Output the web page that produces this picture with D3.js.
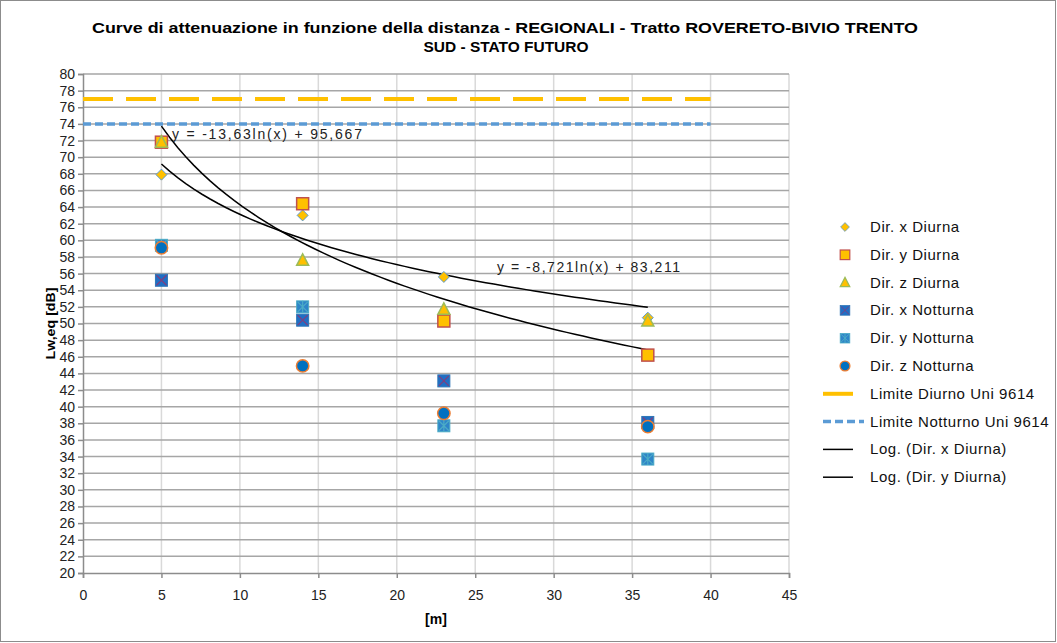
<!DOCTYPE html>
<html>
<head>
<meta charset="utf-8">
<script src="https://cdn.jsdelivr.net/npm/d3@7"></script>
<style>
  body { margin: 0; background: #fff; }
  svg text { font-family: "Liberation Sans", Arial, sans-serif; }
</style>
</head>
<body>
<svg id="chart" width="1057" height="643"></svg>
<script>
// distances [m]
var distances = [5, 14, 23, 36];

// measured levels Lw,eq [dB] per series
var dirXDiurna = [67.9, 63.0, 55.6, 50.7];
var dirYDiurna = [71.8, 64.4, 50.3, 46.2];
var dirZDiurna = [71.8, 57.6, 51.7, 50.3];
var dirXNotturna = [55.2, 50.4, 43.1, 38.1];
var dirYNotturna = [59.4, 52.0, 37.7, 33.7];
var dirZNotturna = [59.1, 44.9, 39.2, 37.6];

// limits
var limiteDiurno = 77;
var limiteNotturno = 74;
var limitRange = [0, 40];

// trendline coefficients (y = a ln(x) + b), as printed on the chart
var trendX = { a: -8.721, b: 83.211, label: 'y = -8,721ln(x) + 83,211' };
var trendY = { a: -13.63, b: 95.667, label: 'y = -13,63ln(x) + 95,667' };

var xTicks = d3.range(0, 46, 5);
var yTicks = d3.range(20, 81, 2);

var svg = d3.select('#chart');

var plotLeft = 83, plotRight = 789, plotTop = 74, plotBottom = 573;
var x = d3.scaleLinear().domain([0, 45]).range([plotLeft, plotRight]);
var y = d3.scaleLinear().domain([20, 80]).range([plotBottom, plotTop]);

// outer frame
svg.append('rect')
    .attr('x', 0.5).attr('y', 0.5)
    .attr('width', 1055).attr('height', 641)
    .attr('fill', '#fff')
    .attr('stroke', '#8c8c8c');

// title
var title = svg.append('text')
    .attr('text-anchor', 'middle')
    .attr('font-weight', 'bold')
    .attr('font-size', 15)
    .attr('fill', '#000');
title.append('tspan').attr('x', 505).attr('y', 33)
    .attr('textLength', 826).attr('lengthAdjust', 'spacingAndGlyphs')
    .text('Curve di attenuazione in funzione della distanza - REGIONALI - Tratto ROVERETO-BIVIO TRENTO');
title.append('tspan').attr('x', 506).attr('y', 52)
    .attr('textLength', 165).attr('lengthAdjust', 'spacingAndGlyphs')
    .text('SUD - STATO FUTURO');

// gridlines
svg.append('g')
    .selectAll('line')
    .data(xTicks.slice(1))
    .enter().append('line')
    .attr('x1', function(d) { return x(d); })
    .attr('x2', function(d) { return x(d); })
    .attr('y1', plotTop).attr('y2', plotBottom)
    .attr('stroke', '#d9d9d9').attr('stroke-width', 1.5);

svg.append('g')
    .selectAll('line')
    .data(yTicks.slice(1))
    .enter().append('line')
    .attr('x1', plotLeft).attr('x2', plotRight)
    .attr('y1', function(d) { return y(d); })
    .attr('y2', function(d) { return y(d); })
    .attr('stroke', '#a6a6a6').attr('stroke-width', 1.5);

// axes
var yAxis = svg.append('g')
    .attr('transform', 'translate(' + plotLeft + ',0)')
    .call(d3.axisLeft(y).tickValues(yTicks).tickSize(5).tickPadding(3));
var xAxis = svg.append('g')
    .attr('transform', 'translate(0,' + plotBottom + ')')
    .call(d3.axisBottom(x).tickValues(xTicks).tickSize(5).tickPadding(12));
[xAxis, yAxis].forEach(function(ax) {
    ax.select('.domain').attr('stroke', '#8c8c8c').attr('stroke-width', 1.5);
    ax.selectAll('.tick line').attr('stroke', '#8c8c8c').attr('stroke-width', 1.5);
    ax.selectAll('.tick text')
        .attr('font-family', '"Liberation Sans", Arial, sans-serif')
        .attr('font-size', 14).attr('fill', '#222');
});

// axis titles
svg.append('text')
    .attr('transform', 'translate(55,' + ((plotTop + plotBottom) / 2) + ') rotate(-90)')
    .attr('text-anchor', 'middle')
    .attr('font-weight', 'bold').attr('font-size', 13)
    .attr('textLength', 72).attr('lengthAdjust', 'spacingAndGlyphs')
    .text('Lw,eq [dB]');
svg.append('text')
    .attr('x', 436).attr('y', 624)
    .attr('text-anchor', 'middle')
    .attr('font-weight', 'bold').attr('font-size', 14)
    .text('[m]');

// limit lines
svg.append('line')
    .attr('x1', x(limitRange[0])).attr('x2', x(limitRange[1]))
    .attr('y1', y(limiteDiurno)).attr('y2', y(limiteDiurno))
    .attr('stroke', '#ffc000').attr('stroke-width', 4)
    .attr('stroke-dasharray', '30,13');
svg.append('line')
    .attr('x1', x(limitRange[0])).attr('x2', x(limitRange[1]))
    .attr('y1', y(limiteNotturno)).attr('y2', y(limiteNotturno))
    .attr('stroke', '#5b9bd5').attr('stroke-width', 3.5)
    .attr('stroke-dasharray', '8,4');

// trend lines
var minD = d3.min(distances), maxD = d3.max(distances);
var trendSamples = d3.range(0, 61).map(function(i) { return minD + (maxD - minD) * i / 60; });
var line = d3.line()
    .x(function(d) { return x(d[0]); })
    .y(function(d) { return y(d[1]); });
[trendX, trendY].forEach(function(t) {
    svg.append('path')
        .datum(trendSamples.map(function(d) { return [d, t.a * Math.log(d) + t.b]; }))
        .attr('d', line)
        .attr('fill', 'none')
        .attr('stroke', '#000').attr('stroke-width', 1.5);
});

// marker drawing
function drawMarker(g, type) {
    if (type === 'diamond') {
        g.append('path').attr('d', 'M0,-5.5L5.5,0L0,5.5L-5.5,0Z')
            .attr('fill', '#ffc000').attr('stroke', '#5b9bd5').attr('stroke-width', 1);
    } else if (type === 'square') {
        g.append('rect').attr('x', -6).attr('y', -6).attr('width', 12).attr('height', 12)
            .attr('fill', '#ffc000').attr('stroke', '#c0504d').attr('stroke-width', 1.5);
    } else if (type === 'triangle') {
        g.append('path').attr('d', 'M0,-6.5L6,5L-6,5Z')
            .attr('fill', '#ffc000').attr('stroke', '#9bbb59').attr('stroke-width', 1.5);
    } else if (type === 'xsquare') {
        g.append('rect').attr('x', -6).attr('y', -6).attr('width', 12).attr('height', 12)
            .attr('fill', '#1f6fc5').attr('stroke', '#2e75b6').attr('stroke-width', 1);
        g.append('path').attr('d', 'M-5,-5L5,5M5,-5L-5,5')
            .attr('stroke', '#7f3f7f').attr('stroke-width', 1.2);
    } else if (type === 'starsquare') {
        g.append('rect').attr('x', -6).attr('y', -6).attr('width', 12).attr('height', 12)
            .attr('fill', '#2f85c8').attr('stroke', '#4bacc6').attr('stroke-width', 1);
        g.append('path').attr('d', 'M-5,-5L5,5M5,-5L-5,5M0,-6L0,6')
            .attr('stroke', '#4bacc6').attr('stroke-width', 1.2);
    } else if (type === 'circle') {
        g.append('circle').attr('r', 6.2)
            .attr('fill', '#0070c0').attr('stroke', '#ed7d31').attr('stroke-width', 1.5);
    }
}

var series = [
    { name: 'Dir. x Diurna', values: dirXDiurna, marker: 'diamond' },
    { name: 'Dir. y Diurna', values: dirYDiurna, marker: 'square' },
    { name: 'Dir. z Diurna', values: dirZDiurna, marker: 'triangle' },
    { name: 'Dir. x Notturna', values: dirXNotturna, marker: 'xsquare' },
    { name: 'Dir. y Notturna', values: dirYNotturna, marker: 'starsquare' },
    { name: 'Dir. z Notturna', values: dirZNotturna, marker: 'circle' }
];

series.forEach(function(s) {
    s.values.forEach(function(v, i) {
        var g = svg.append('g')
            .attr('transform', 'translate(' + x(distances[i]) + ',' + y(v) + ')');
        drawMarker(g, s.marker);
    });
});

// trend equations
svg.append('text').attr('x', 172).attr('y', 139)
    .attr('font-size', 14).attr('fill', '#222')
    .attr('textLength', 190).attr('lengthAdjust', 'spacing')
    .text(trendY.label);
svg.append('text').attr('x', 497).attr('y', 272)
    .attr('font-size', 14).attr('fill', '#222')
    .attr('textLength', 183).attr('lengthAdjust', 'spacing')
    .text(trendX.label);

// legend
var legendItems = series.map(function(s) { return { name: s.name, marker: s.marker }; })
    .concat([
        { name: 'Limite Diurno Uni 9614', lineColor: '#ffc000', dash: null, width: 4 },
        { name: 'Limite Notturno Uni 9614', lineColor: '#5b9bd5', dash: '8,4', width: 3.5 },
        { name: 'Log. (Dir. x Diurna)', lineColor: '#000', dash: null, width: 1.5 },
        { name: 'Log. (Dir. y Diurna)', lineColor: '#000', dash: null, width: 1.5 }
    ]);

var legend = svg.append('g');
legendItems.forEach(function(d, i) {
    var ly = 227 + i * 27.8;
    var g = legend.append('g').attr('transform', 'translate(0,' + ly + ')');
    if (d.marker) {
        var m = g.append('g').attr('transform', 'translate(845,0) scale(0.8)');
        drawMarker(m, d.marker);
    } else {
        var x2 = d.dash ? 864 : 853;
        g.append('line').attr('x1', 823).attr('x2', x2).attr('y1', 0).attr('y2', 0)
            .attr('stroke', d.lineColor).attr('stroke-width', d.width)
            .attr('stroke-dasharray', d.dash);
    }
    g.append('text').attr('x', 870).attr('y', 5)
        .attr('font-size', 15).attr('letter-spacing', 0.55).attr('fill', '#111').text(d.name);
});
</script>
</body>
</html>
